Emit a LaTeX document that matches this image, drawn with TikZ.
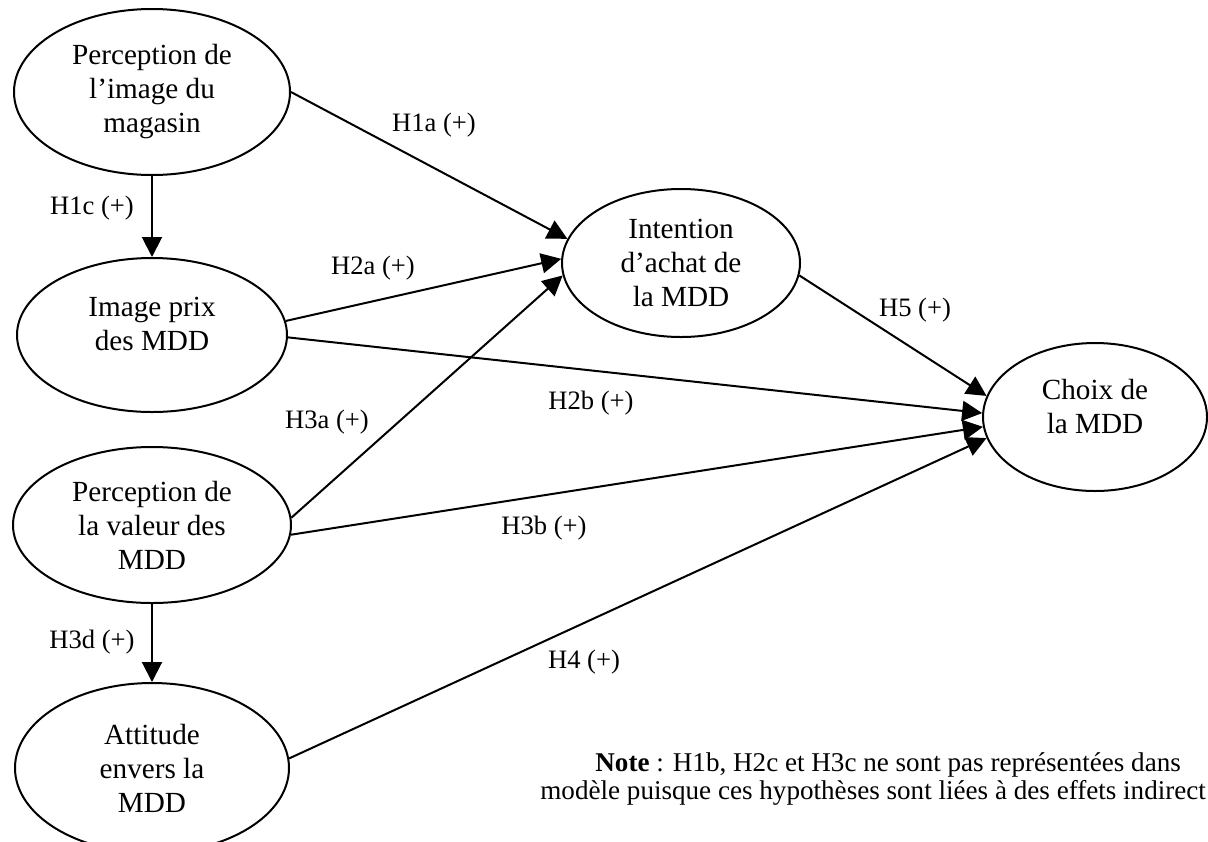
\documentclass[tikz,border=0pt]{standalone}
\usepackage{fontspec}
\setmainfont{Liberation Serif}
\usetikzlibrary{arrows.meta,shapes.geometric,positioning}

\tikzset{
  latent/.style={ellipse, draw, line width=1pt, align=center, inner sep=0pt,
    font=\fontsize{14.6}{17}\selectfont},
  twoline/.style={text depth=11pt},
  hyp/.style={font=\fontsize{13.3}{14}\selectfont, inner sep=0pt},
  effect/.style={-{Triangle[length=10pt,width=10pt]}, line width=1pt}
}

\begin{document}
\begin{tikzpicture}[x=1pt, y=1pt, on grid]
  \useasboundingbox (0,0) rectangle (604,-420.5);

  \node[latent, minimum width=138pt, minimum height=83pt] (mag) at (76,-46) {Perception de\\l’image du\\magasin};
  \node[latent, twoline, minimum width=135pt, minimum height=77pt] (prix) [below=121.5pt of mag] {Image prix\\des MDD};
  \node[latent, minimum width=139pt, minimum height=78pt] (val) [below=95pt of prix] {Perception de\\la valeur des\\MDD};
  \node[latent, minimum width=137pt, minimum height=85pt] (att) [below=121.5pt of val] {Attitude\\envers la\\MDD};
  \node[latent, minimum width=119pt, minimum height=74pt, yshift=-85.5pt] (intent) [right=264.5pt of mag] {Intention\\d’achat de\\la MDD};
  \node[latent, twoline, minimum width=112pt, minimum height=74pt, yshift=-77pt] (choix) [right=207pt of intent] {Choix de\\la MDD};

  \path[effect]
    (mag.east)  edge (intent.168)
    (mag.south) edge (prix.north)
    (prix.6)    edge (intent.178)
    (prix.-1)   edge (choix.178)
    (val.3)     edge (intent.186)
    (val.-4)    edge (choix.185)
    (val.south) edge (att.north)
    (att.4)     edge (choix.191)
    (intent.-6) edge (choix.169);

  % hypotheses
  \node[hyp] (h1a) at (217,-62.5) {H1a (+)};
  \node[hyp] (h1c) at (46,-104) {H1c (+)};
  \node[hyp] (h2a) at (186.5,-134) {H2a (+)};
  \node[hyp] (h2b) at (295.5,-201.5) {H2b (+)};
  \node[hyp] (h3a) at (163.5,-211) {H3a (+)};
  \node[hyp] (h3b) at (272,-264) {H3b (+)};
  \node[hyp] (h3d) at (46,-321) {H3d (+)};
  \node[hyp] (h4) at (292,-331) {H4 (+)};
  \node[hyp] (h5) at (457.5,-155) {H5 (+)};

  \node[hyp, font=\fontsize{13.55}{14}\selectfont, align=left, anchor=west] (note) at (270,-389.5) {\hspace*{27.5pt}\textbf{Note} : H1b, H2c et H3c ne sont pas représentées dans\\modèle puisque ces hypothèses sont liées à des effets indirect};
\end{tikzpicture}
\end{document}
